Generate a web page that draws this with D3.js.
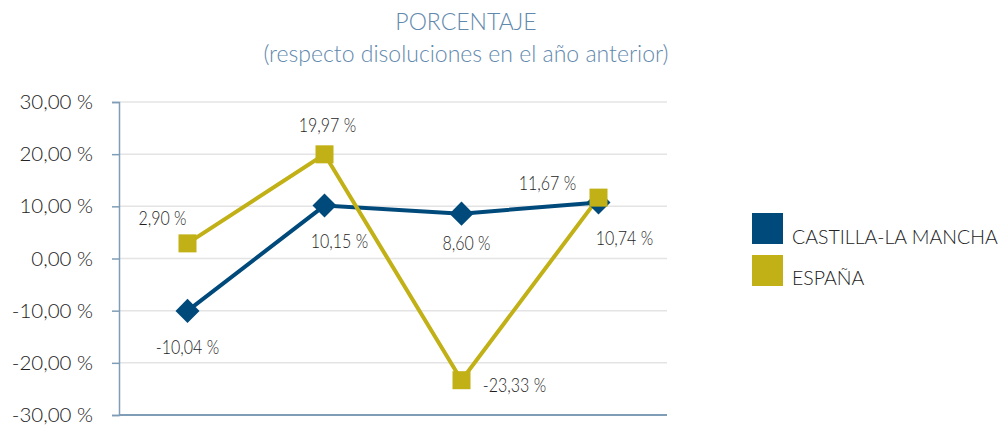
<!DOCTYPE html>
<html>
<head>
<meta charset="utf-8">
<script src="https://cdn.jsdelivr.net/npm/d3@7"></script>
<style>
  body { margin: 0; background: #fff; }
  svg { display: block; }
</style>
</head>
<body>
<div id="chart"></div>
<script>
// Chart data
const years = ['A1', 'A2', 'A3', 'A4'];
const castilla = [-10.04, 10.15, 8.60, 10.74];
const espana = [2.90, 19.97, -23.33, 11.67];
const yTicks = [-30, -20, -10, 0, 10, 20, 30];
const seriesNames = ['CASTILLA-LA MANCHA', 'ESPAÑA'];

const width = 1006;
const height = 425;
const margin = { top: 102, right: 339, bottom: 10, left: 119 };

const blue = '#004a7b';
const gold = '#c1b016';
const axisColor = '#7f9db6';
const mainFont = 'Lato, "Noto Sans", sans-serif';

const svg = d3.select('#chart')
    .append('svg')
    .attr('width', width)
    .attr('height', height);

const fmt = v => d3.format('.2f')(v).replace('−', '-').replace('.', ',') + ' %';

// Scales
const x = d3.scalePoint()
    .domain(years)
    .range([margin.left, width - margin.right])
    .padding(0.5);

const y = d3.scaleLinear()
    .domain([-30, 30])
    .range([415, margin.top]);

// Title
svg.append('text')
    .attr('x', 466)
    .attr('y', 30)
    .attr('text-anchor', 'middle')
    .style('font-family', mainFont)
    .style('font-weight', 300)
    .style('font-size', '23px')
    .attr('fill', '#5f89ad')
    .text('PORCENTAJE');

svg.append('text')
    .attr('x', 466)
    .attr('y', 62)
    .attr('text-anchor', 'middle')
    .style('font-family', mainFont)
    .style('font-weight', 300)
    .style('font-size', '23px')
    .attr('fill', '#5f89ad')
    .text('(respecto disoluciones en el año anterior)');

// Gridlines
svg.append('g')
    .selectAll('line')
    .data(yTicks.filter(d => d !== -30))
    .enter()
    .append('line')
    .attr('x1', margin.left)
    .attr('x2', width - margin.right)
    .attr('y1', d => y(d))
    .attr('y2', d => y(d))
    .attr('stroke', '#e4e4e4')
    .attr('stroke-width', 1.5);

// Y axis
const yAxis = d3.axisLeft(y)
    .tickValues(yTicks)
    .tickSize(7)
    .tickPadding(19)
    .tickFormat(fmt);

const gy = svg.append('g')
    .attr('transform', `translate(${margin.left},0)`)
    .call(yAxis);
gy.select('.domain').attr('stroke', axisColor).attr('stroke-width', 1.5);
gy.selectAll('.tick line').attr('stroke', axisColor).attr('stroke-width', 1.5);
gy.selectAll('.tick text')
    .style('font-family', mainFont)
    .style('font-weight', 300)
    .style('font-size', '20.5px')
    .attr('fill', '#222');

// X axis (no labels)
const xAxis = d3.axisBottom(x).tickSize(0).tickFormat('');
const gx = svg.append('g')
    .attr('transform', `translate(0,${y(-30)})`)
    .call(xAxis);
gx.select('.domain')
    .attr('d', `M${margin.left},0H${width - margin.right}`)
    .attr('stroke', axisColor).attr('stroke-width', 2);

// Lines
const line = d3.line()
    .x((d, i) => x(years[i]))
    .y(d => y(d));

svg.append('path')
    .datum(castilla)
    .attr('fill', 'none')
    .attr('stroke', blue)
    .attr('stroke-width', 4)
    .attr('d', line);

svg.append('path')
    .datum(espana)
    .attr('fill', 'none')
    .attr('stroke', gold)
    .attr('stroke-width', 4)
    .attr('d', line);

// Markers
svg.append('g')
    .selectAll('path')
    .data(castilla)
    .enter()
    .append('path')
    .attr('transform', (d, i) => `translate(${x(years[i])},${y(d)}) rotate(45)`)
    .attr('d', 'M-8.5,-8.5H8.5V8.5H-8.5Z')
    .attr('fill', blue);

svg.append('g')
    .selectAll('rect')
    .data(espana)
    .enter()
    .append('rect')
    .attr('x', (d, i) => x(years[i]) - 9)
    .attr('y', d => y(d) - 9)
    .attr('width', 18)
    .attr('height', 18)
    .attr('fill', gold);

// Data labels (condensed look via horizontal scale)
const castillaOffsets = [[0, 43], [15, 42], [5, 36], [26, 43]];
const espanaOffsets = [[-25, -18], [3, -22], [53, 12], [-51, -8]];

function labels(data, offsets) {
    svg.append('g')
        .selectAll('text')
        .data(data)
        .enter()
        .append('text')
        .attr('transform', (d, i) =>
            `translate(${x(years[i]) + offsets[i][0]},${y(d) + offsets[i][1]}) scale(0.78,1)`)
        .attr('text-anchor', 'middle')
        .style('font-family', mainFont)
        .style('font-weight', 300)
        .style('font-size', '20.5px')
        .attr('fill', '#1e1e1e')
        .text(d => fmt(d));
}
labels(castilla, castillaOffsets);
labels(espana, espanaOffsets);

// Legend
const legend = svg.append('g');
legend.selectAll('rect')
    .data(seriesNames)
    .enter()
    .append('rect')
    .attr('x', 752)
    .attr('y', (d, i) => 213 + i * 42)
    .attr('width', 31)
    .attr('height', 31)
    .attr('fill', (d, i) => i === 0 ? blue : gold);

legend.selectAll('text')
    .data(seriesNames)
    .enter()
    .append('text')
    .attr('x', 792)
    .attr('y', (d, i) => 244 + i * 41)
    .style('font-family', mainFont)
    .style('font-weight', 300)
    .style('font-size', '19.5px')
    .attr('fill', '#222')
    .text(d => d);
</script>
</body>
</html>
